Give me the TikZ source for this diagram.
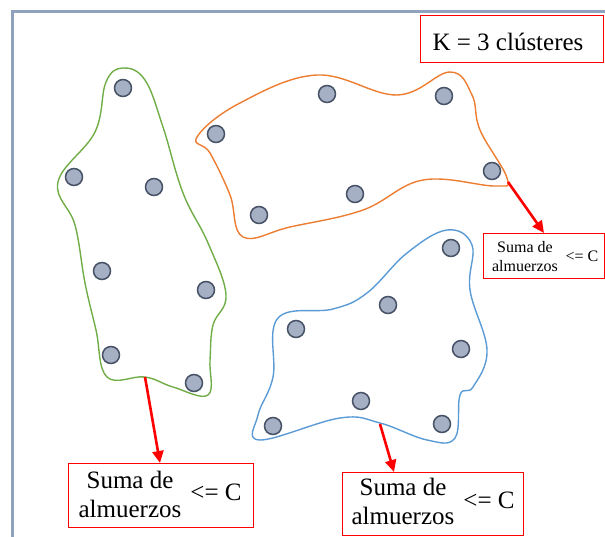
\documentclass[tikz,border=0pt]{standalone}
\usepackage{fontspec}
\setmainfont{Liberation Serif}
\usetikzlibrary{arrows.meta}
\definecolor{framec}{RGB}{143,163,190}
\definecolor{gblob}{RGB}{112,173,71}
\definecolor{oblob}{RGB}{237,125,49}
\definecolor{bblob}{RGB}{91,155,213}
\definecolor{dotfill}{RGB}{165,176,196}
\definecolor{dotdraw}{RGB}{72,82,102}
\begin{document}
\begin{tikzpicture}[x=1pt,y=-1pt,
  dot/.style={circle,fill=dotfill,draw=dotdraw,line width=1.5pt,minimum size=17pt,inner sep=0pt},
  blob/.style={line width=1.4pt},
  redbox/.style={draw=red,line width=1.4pt,inner sep=0pt},
  bigtxt/.style={font=\fontsize{25}{29}\selectfont,inner sep=0pt},
  smalltxt/.style={font=\fontsize{16}{19}\selectfont,inner sep=0pt},
  redarrow/.style={draw=red,line width=2.6pt,-{Triangle[length=12pt,width=11pt]}}]
\useasboundingbox (0,0) rectangle (605,537);
% frame
\draw[framec,line width=3pt] (12,540) -- (12,12) -- (610,12);
% blobs
\draw[blob,gblob] plot[smooth cycle,tension=0.65] coordinates {
 (123,68) (145,80) (163,127) (183,193) (208,243) (226,295) (213,325)
 (210,360) (208,395) (173,387) (145,377) (107,377) (96,330) (85,283)
 (75,225) (58,182) (95,132) (106,82)};
\draw[blob,oblob] plot[smooth cycle,tension=0.65] coordinates {
 (197,137) (240,103) (317,75) (397,95) (450,72) (472,95) (480,130)
 (507,178) (495,186) (423,180) (363,210) (290,227) (243,237) (230,195)
 (210,153)};
\draw[blob,bblob] plot[smooth cycle,tension=0.65] coordinates {
 (447,230) (472,245) (470,290) (487,350) (473,387) (460,395) (455,438)
 (427,440) (380,423) (340,418) (260,440) (258,415) (273,377) (278,318)
 (333,309) (367,293) (407,253)};
% dots green
\node[dot] (g1) at (123,88) {};
\node[dot] (g2) at (74,177) {};
\node[dot] (g3) at (154,187) {};
\node[dot] (g4) at (102,271) {};
\node[dot] (g5) at (206,290) {};
\node[dot] (g6) at (111,355) {};
\node[dot] (g7) at (194,383) {};
% dots orange
\node[dot] (o1) at (327,94) {};
\node[dot] (o2) at (444,96) {};
\node[dot] (o3) at (216,134) {};
\node[dot] (o4) at (492,171) {};
\node[dot] (o5) at (355,194) {};
\node[dot] (o6) at (259,215) {};
% dots blue
\node[dot] (b1) at (451,248) {};
\node[dot] (b2) at (388,305) {};
\node[dot] (b3) at (296,329) {};
\node[dot] (b4) at (461,349) {};
\node[dot] (b5) at (361,401) {};
\node[dot] (b6) at (273,426) {};
\node[dot] (b7) at (442,424) {};
% K box
\node[redbox,minimum width=183pt,minimum height=47pt,anchor=north west] (kbox) at (420,15) {};
\node[bigtxt,anchor=base] (ktxt) at (508,51) {K = 3 clústeres};
% box 1
\node[redbox,minimum width=185pt,minimum height=64pt,anchor=north west] (box1) at (68,463) {};
\node[bigtxt,align=center] (s1) at (130,494) {Suma de\\almuerzos};
\node[bigtxt,anchor=base] (c1) at (216,500) {<= C};
% box 2
\node[redbox,minimum width=121pt,minimum height=45pt,anchor=north west] (box2) at (483,233) {};
\node[smalltxt,align=center] (s2) at (525,257) {Suma de\\almuerzos};
\node[smalltxt,anchor=base] (c2) at (582,262) {<= C};
% box 3
\node[redbox,minimum width=181pt,minimum height=63pt,anchor=north west] (box3) at (342,472) {};
\node[bigtxt,align=center] (s3) at (403,501) {Suma de\\almuerzos};
\node[bigtxt,anchor=base] (c3) at (489,508) {<= C};
% arrows
\coordinate (a1s) at (145,377);
\coordinate (a1e) at (160,463);
\coordinate (a2s) at (508,182);
\coordinate (a2e) at (544,233);
\coordinate (a3s) at (380,424);
\coordinate (a3e) at (394,472);
\draw[redarrow] (a1s) -- (a1e);
\draw[redarrow] (a2s) -- (a2e);
\draw[redarrow] (a3s) -- (a3e);
\end{tikzpicture}
\end{document}
